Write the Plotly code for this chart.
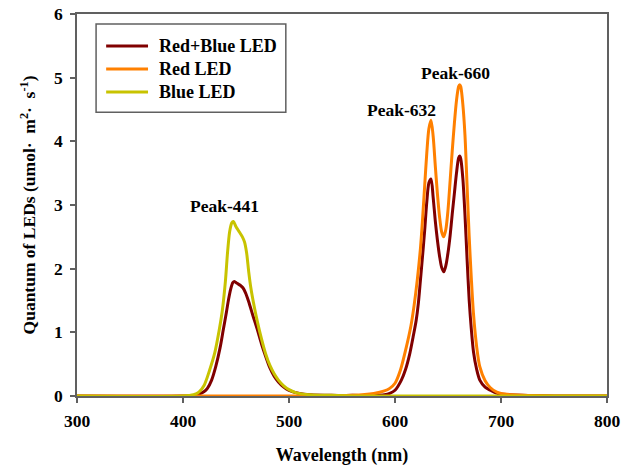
import plotly.graph_objects as go

# Spectral photon flux of the three LED light sources
wl_rb = [300, 400, 410, 415, 420, 423, 427, 431, 435, 438,
         441, 443, 445, 447, 448.5, 451, 454, 456.5, 459, 462,
         466, 470, 474, 478, 482, 486, 490, 495, 500, 510,
         520, 540, 560, 580, 590, 595, 600, 606, 610, 614,
         617, 620, 622, 624, 626, 628, 630, 632, 634, 636,
         638, 640, 642, 644, 646, 648, 650, 652, 654, 656,
         658, 660, 661, 662, 664, 666, 668, 670, 672, 674,
         677, 680, 685, 690, 695, 700, 720, 750, 800]
red_blue = [0, 0, 0.01, 0.03, 0.07, 0.12, 0.25, 0.47, 0.76, 1.04,
            1.32, 1.52, 1.68, 1.78, 1.80, 1.77, 1.74, 1.70, 1.62, 1.48,
            1.26, 1.05, 0.82, 0.62, 0.44, 0.31, 0.22, 0.14, 0.09, 0.04,
            0.02, 0.01, 0.01, 0.01, 0.02, 0.04, 0.09, 0.25, 0.42, 0.67,
            0.92, 1.19, 1.45, 1.82, 2.20, 2.60, 3.05, 3.35, 3.41, 3.12,
            2.75, 2.45, 2.20, 2.02, 1.95, 2.05, 2.25, 2.52, 2.86, 3.18,
            3.50, 3.74, 3.77, 3.73, 3.42, 2.85, 2.15, 1.50, 1.05, 0.70,
            0.42, 0.25, 0.14, 0.09, 0.05, 0.03, 0.01, 0, 0]

wl_red = [300, 500, 560, 580, 590, 595, 600, 605, 610, 615,
          618, 621, 624, 626, 628, 630, 632, 634, 636, 638,
          640, 642, 644, 646, 648, 650, 652, 654, 656, 658,
          660, 661, 662, 664, 666, 668, 670, 672, 674, 677,
          680, 685, 690, 696, 700, 710, 720, 750, 800]
red = [0, 0, 0.01, 0.04, 0.08, 0.12, 0.20, 0.40, 0.72, 1.10,
       1.42, 1.82, 2.32, 2.78, 3.30, 3.82, 4.20, 4.33, 4.08, 3.62,
       3.18, 2.82, 2.58, 2.50, 2.62, 2.92, 3.38, 3.85, 4.28, 4.64,
       4.86, 4.89, 4.86, 4.58, 4.10, 3.30, 2.50, 1.85, 1.30, 0.78,
       0.46, 0.24, 0.13, 0.06, 0.04, 0.02, 0.01, 0, 0]

wl_blue = [300, 400, 410, 415, 420, 425, 430, 434, 437, 440,
           442, 444, 446, 447.5, 450, 453, 456, 458, 460, 462,
           464, 467, 470, 474, 478, 482, 486, 490, 495, 500,
           507, 520, 540, 560, 800]
blue = [0, 0, 0.02, 0.06, 0.17, 0.40, 0.68, 1.02, 1.33, 1.80,
        2.25, 2.58, 2.72, 2.74, 2.66, 2.58, 2.50, 2.42, 2.25, 1.95,
        1.70, 1.42, 1.18, 0.90, 0.66, 0.48, 0.35, 0.25, 0.16, 0.10,
        0.05, 0.02, 0.01, 0, 0]

series_names = ["Red+Blue LED", "Red LED", "Blue LED"]
series_colors = ["#800000", "#FF8000", "#C8C300"]

peak_labels = ["Peak-441", "Peak-632", "Peak-660"]
peak_x = [439.6, 605.7, 657.5]
peak_y = [2.97, 4.47, 5.06]

FONT = "Liberation Serif, Times New Roman, serif"
AXIS_GRAY = "#606060"

fig = go.Figure()
for name, xs, ys, col in zip(series_names,
                             [wl_rb, wl_red, wl_blue],
                             [red_blue, red, blue],
                             series_colors):
    fig.add_trace(go.Scatter(
        x=xs, y=ys, name=name, mode="lines", showlegend=False,
        line=dict(color=col, width=3, shape="spline", smoothing=0.8),
    ))

for txt, px, py in zip(peak_labels, peak_x, peak_y):
    fig.add_annotation(
        x=px, y=py, text=txt, showarrow=False, yshift=1,
        font=dict(family=FONT, size=17.5, color="black", weight="bold"),
    )

# Boxed key in the upper-left corner (paper coordinates)
key_left, key_right, key_top, key_bottom = 0.036, 0.394, 0.974, 0.743
key_rows = [0.916, 0.856, 0.796]
fig.add_shape(type="rect", xref="paper", yref="paper",
              x0=key_left, x1=key_right, y0=key_bottom, y1=key_top,
              line=dict(color=AXIS_GRAY, width=1.5), fillcolor="white", layer="above")
for name, col, ry in zip(series_names, series_colors, key_rows):
    fig.add_shape(type="line", xref="paper", yref="paper",
                  x0=0.055, x1=0.134, y0=ry, y1=ry,
                  line=dict(color=col, width=3), layer="above")
    fig.add_annotation(xref="paper", yref="paper", x=0.151, y=ry,
                       xanchor="left", yanchor="middle", text=name,
                       showarrow=False,
                       font=dict(family=FONT, size=18, color="black", weight="bold"))

axis_common = dict(
    showline=True, linecolor=AXIS_GRAY, linewidth=1.5, mirror=True,
    ticks="outside", ticklen=5, tickwidth=1.5, tickcolor=AXIS_GRAY,
    showgrid=False, zeroline=False, automargin=False,
    tickfont=dict(family=FONT, size=17.5, color="black", weight="bold"),
)

fig.update_xaxes(
    range=[300, 800], dtick=100, tick0=300, ticklabelstandoff=3,
    title=dict(text="Wavelength (nm)", standoff=20,
               font=dict(family=FONT, size=18, color="black", weight="bold")),
    **axis_common,
)
fig.update_yaxes(
    range=[0, 6], dtick=1, tick0=0, ticklabelstandoff=4,
    title=dict(text="Quantum of LEDs (umol·  m<sup>2</sup>·  s<sup>-1</sup>)", standoff=14,
               font=dict(family=FONT, size=17.5, color="black", weight="bold")),
    **axis_common,
)

fig.update_layout(
    width=633, height=466,
    margin=dict(l=77, r=26, t=14, b=70),
    paper_bgcolor="white", plot_bgcolor="white",
    showlegend=False,
)

fig.write_html("out.html")
